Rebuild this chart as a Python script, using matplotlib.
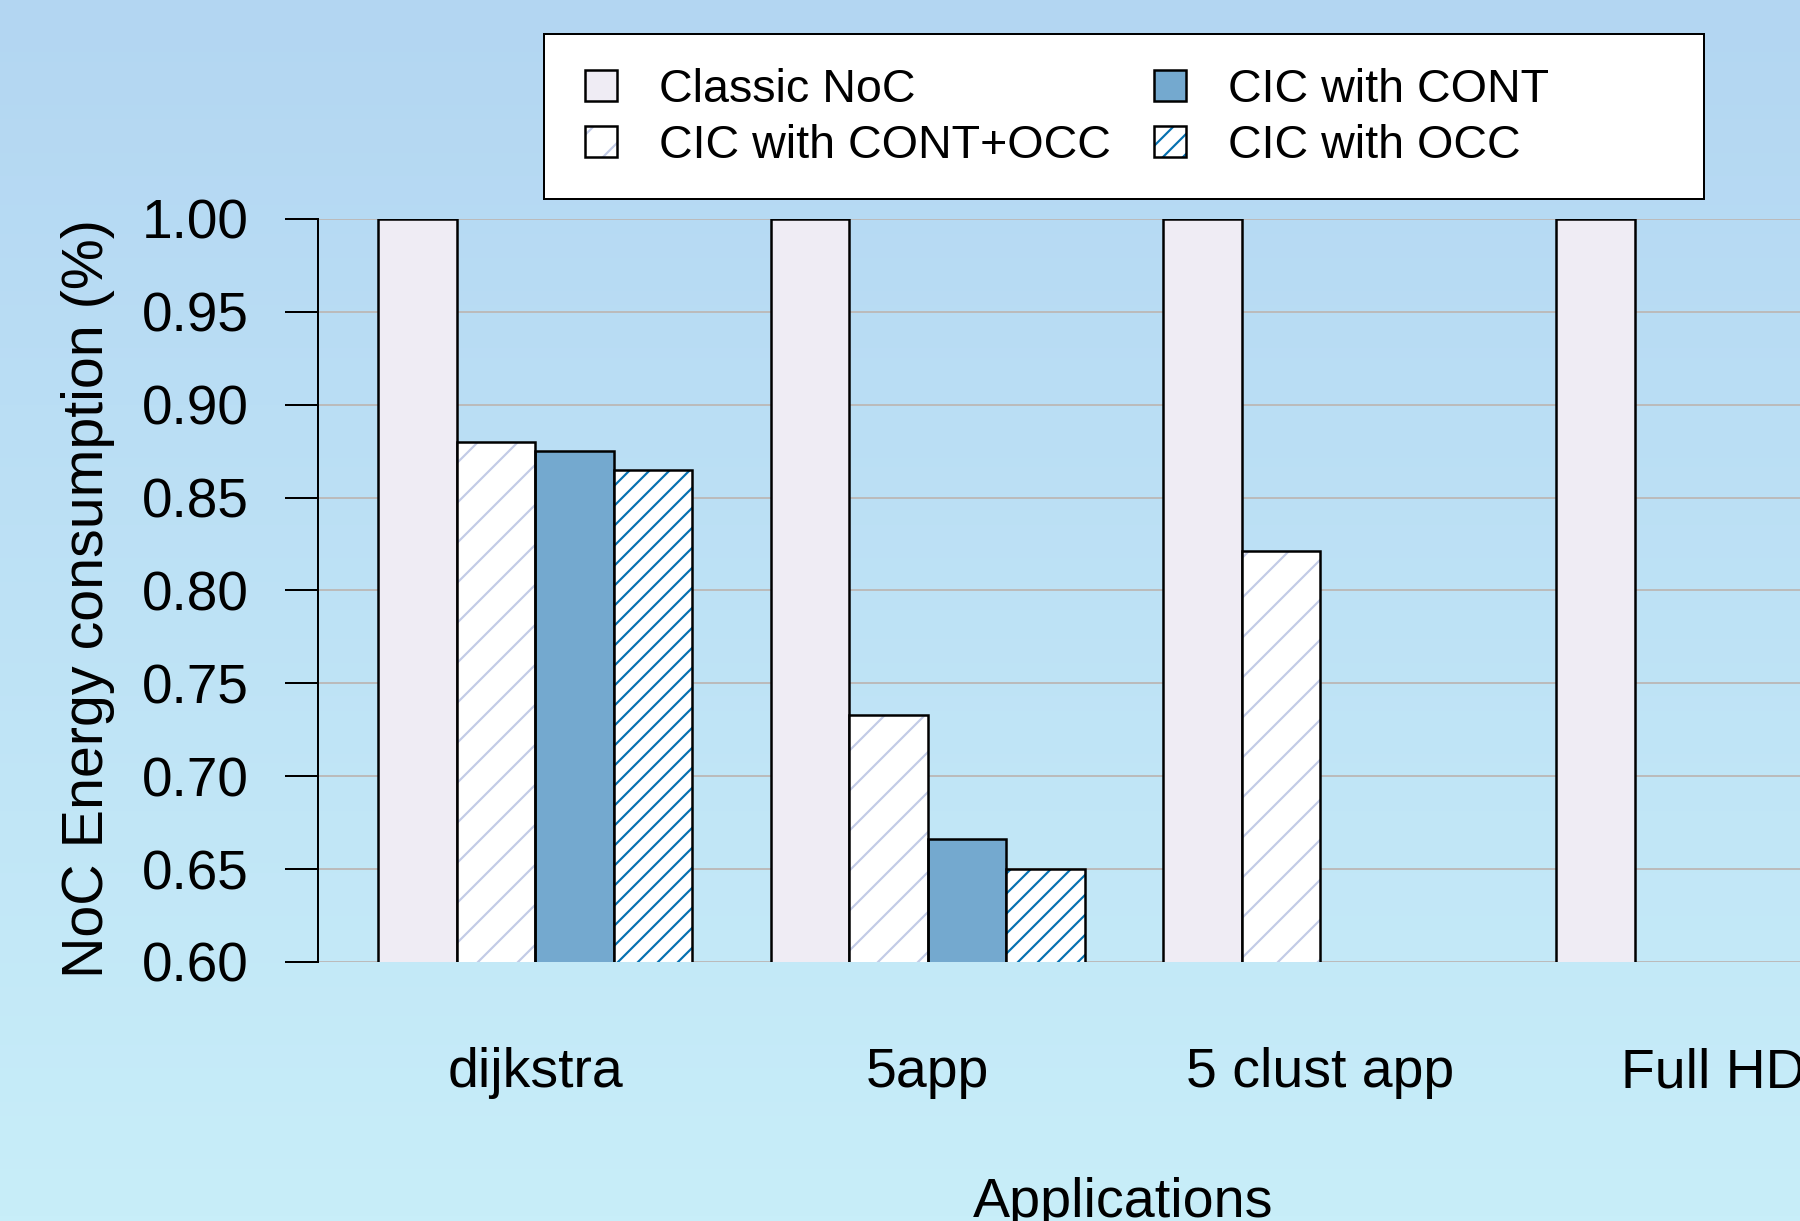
import numpy as np
import matplotlib
matplotlib.use('Agg')
from matplotlib import pyplot as plt
from matplotlib.patches import Rectangle

apps = ['dijkstra', '5app', '5 clust app', 'Full HD']
classic_noc = [1.0, 1.0, 1.0, 1.0]
cic_cont_occ = [0.880, 0.733, 0.821, np.nan]
cic_cont = [0.875, 0.666, np.nan, np.nan]
cic_occ = [0.865, 0.650, np.nan, np.nan]

DPI = 120
W, H = 1800, 1221
k = 240 / DPI  # sizes below were tuned in "points at 240 dpi"

plt.rcParams['font.family'] = ['Liberation Sans', 'DejaVu Sans']
plt.rcParams['hatch.linewidth'] = 0.65 * k

fig = plt.figure(figsize=(W / DPI, H / DPI), dpi=DPI)

# background gradient
bg = fig.add_axes([0, 0, 1, 1], zorder=-10)
top = np.array([179, 214, 242]) / 255
bottom = np.array([200, 238, 249]) / 255
t = np.linspace(0, 1, 256)[:, None]
grad = (top[None, :] * (1 - t) + bottom[None, :] * t)[:, None, :]
bg.imshow(grad, aspect='auto', extent=[0, 1, 0, 1])
bg.axis('off')

# axes runs past the right edge of the canvas, like the reference
ax = fig.add_axes([318 / W, 1 - 962 / H, 1611 / W, 743 / H])
ax.set_facecolor('none')

x = np.arange(len(apps))
w = 0.2
ec = 'black'
lw = 0.75 * k

b1 = ax.bar(x - 1.5 * w, classic_noc, w, color='#efecf4', edgecolor=ec, linewidth=lw, zorder=3)
h2 = ax.bar(x - 0.5 * w, cic_cont_occ, w, color='white', edgecolor='#c2cbe6', hatch='/', linewidth=0, zorder=3)
e2 = ax.bar(x - 0.5 * w, cic_cont_occ, w, fill=False, edgecolor=ec, linewidth=lw, zorder=4)
b3 = ax.bar(x + 0.5 * w, cic_cont, w, color='#74a9cf', edgecolor=ec, linewidth=lw, zorder=3)
h4 = ax.bar(x + 1.5 * w, cic_occ, w, color='white', edgecolor='#0570b0', hatch='//', linewidth=0, zorder=3)
e4 = ax.bar(x + 1.5 * w, cic_occ, w, fill=False, edgecolor=ec, linewidth=lw, zorder=4)

ax.set_xlim(-0.553, 3.55)
ax.set_ylim(0.6, 1.0)
ax.set_yticks(np.arange(0.60, 1.001, 0.05))
ax.set_yticklabels(['%.2f' % v for v in np.arange(0.60, 1.001, 0.05)])
ax.set_xticks(x)
ax.set_xticklabels(apps)
ax.tick_params(axis='y', length=9.9 * k, width=0.6 * k, pad=11 * k, labelsize=16.5 * k)
ax.tick_params(axis='x', length=0, pad=25.5 * k, labelsize=16.6 * k)
ax.grid(axis='y', color='#bbbbbb', linewidth=0.6 * k, zorder=0)
ax.set_axisbelow(True)
for s in ['top', 'right', 'bottom']:
    ax.spines[s].set_visible(False)
ax.spines['left'].set_linewidth(0.6 * k)

ax.set_ylabel('NoC Energy consumption (%)', fontsize=17.2 * k)
ax.yaxis.set_label_coords(-0.126, 0.489)
ax.set_xlabel('Applications', fontsize=16.7 * k)
ax.xaxis.set_label_coords(0.5, -0.29)

# legend frame
fig.patches.append(Rectangle((544 / W, 1 - 199 / H), 1160 / W, 165 / H,
                             transform=fig.transFigure, facecolor='white',
                             edgecolor='black', linewidth=0.6 * k, zorder=5))
handles = [b1, (h2, e2), b3, (h4, e4)]
labels = ['Classic NoC', 'CIC with CONT+OCC', 'CIC with CONT', 'CIC with OCC']
leg = fig.legend(handles, labels,
                 ncol=2, loc='upper left', bbox_to_anchor=(585 / W, 1 - 68 / H),
                 frameon=False, fontsize=14 * k, borderpad=0, borderaxespad=0,
                 handlelength=0.69, handleheight=0.64, handletextpad=0.9,
                 columnspacing=0.92, labelspacing=0.25)
leg.set_zorder(6)

fig.savefig('out.png', dpi=DPI)
